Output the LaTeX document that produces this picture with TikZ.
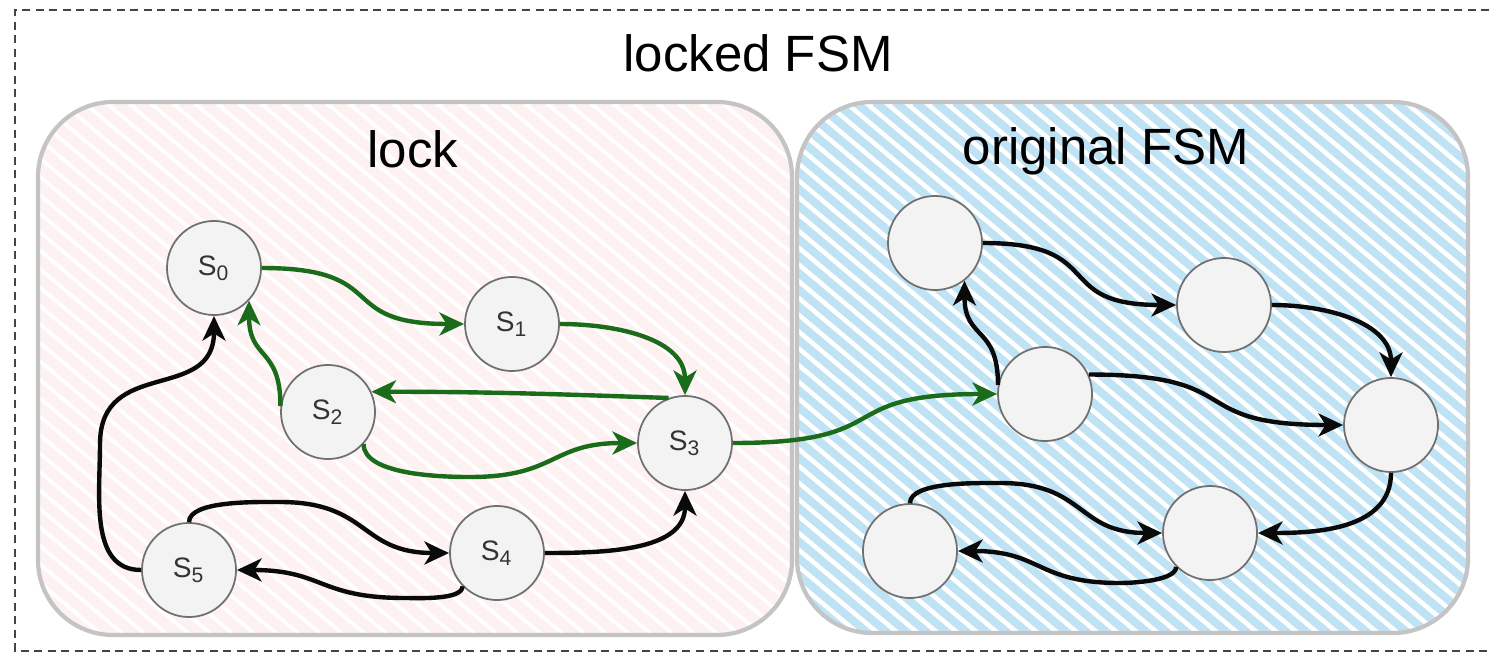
\documentclass[tikz,border=0pt]{standalone}
\usepackage{fontspec}
\setmainfont{Liberation Sans}
\usetikzlibrary{arrows.meta}
\definecolor{FSMGreen}{HTML}{1A6B1A}
\definecolor{FSMEdge}{HTML}{0A0A0A}
\definecolor{FSMRing}{HTML}{707070}
\definecolor{FSMState}{HTML}{F3F3F3}
\definecolor{FSMFrame}{HTML}{C4C4C4}
\definecolor{FSMPink}{HTML}{FDF1F1}
\definecolor{FSMBlue}{HTML}{BFE3F5}
\definecolor{FSMDash}{HTML}{444444}

\begin{document}
\begin{tikzpicture}[x=0.01cm,y=0.01cm,
  state/.style={circle,draw=FSMRing,line width=0.5pt,fill=FSMState,
    minimum size=0.94cm,inner sep=0pt,text=black!80,font=\fontsize{8}{9}\selectfont},
  trans/.style={line width=1.25pt,-{Stealth[length=7pt,width=6.5pt,inset=2pt]}},
  lockedge/.style={trans,draw=FSMGreen},
  plainedge/.style={trans,draw=FSMEdge},
  frame/.style={draw=FSMFrame,line width=1.2pt,rounded corners=0.75cm},
  title/.style={font=\fontsize{14.5}{17}\selectfont,anchor=base}]
\path[use as bounding box] (0,0) rectangle (1489,654);

% hatched backgrounds
\begin{scope}
\clip[rounded corners=0.75cm] (38,19) rectangle (792,552);
\fill[white] (38,19) rectangle (792,552);
\foreach \x in {-610,-588,...,792}
  \draw[FSMPink,line width=0.1cm] (\x,552) -- ++(640,-537);
\end{scope}
\begin{scope}
\clip[rounded corners=0.75cm] (797,21) rectangle (1468,552);
\fill[white] (797,21) rectangle (1468,552);
\foreach \x in {155,175,...,1468}
  \draw[FSMBlue,line width=0.08cm] (\x,552) -- ++(640,-537);
\end{scope}
\draw[frame] (38,19) rectangle (792,552);
\draw[frame] (797,21) rectangle (1468,552);

% outer frame, open to the right
\draw[FSMDash,line width=0.6pt,dash pattern=on 0.08cm off 0.055cm]
  (1489,644) -- (15,644) -- (15,3) -- (1489,3);

\node[title] (lockedfsm) at (758,582) {locked FSM};
\node[title] (locktitle) at (413,487) {lock};
\node[title] (origtitle) at (1106,490) {original FSM};

% lock states
\node[state] (s0) at (214,386) {S\textsubscript{0}};
\node[state] (s1) at (512,330) {S\textsubscript{1}};
\node[state] (s2) at (328,242) {S\textsubscript{2}};
\node[state] (s3) at (685,211) {S\textsubscript{3}};
\node[state] (s4) at (497,101) {S\textsubscript{4}};
\node[state] (s5) at (189,84) {S\textsubscript{5}};
% original states
\node[state] (o1) at (935,411) {};
\node[state] (o2) at (1224,349) {};
\node[state] (o3) at (1045,260) {};
\node[state] (o4) at (1391,229) {};
\node[state] (o5) at (1210,121) {};
\node[state] (o6) at (910,103) {};

% bends of the longer edges
\coordinate (s2s3) at (470,177);
\coordinate (s5up) at (100,210);
\coordinate (s5s4) at (280,152);
\coordinate (s4s5) at (405,56);
\coordinate (o6o5) at (1000,171);
\coordinate (o5o6) at (1120,71);

% unlocking sequence
\draw[lockedge] (s0.east) to[out=0,in=180,looseness=1.6] (s1.west);
\draw[lockedge] (s1.east) to[out=0,in=90] (s3.north);
\draw[lockedge] (s3.110) to[out=178,in=0] (s2.25);
\draw[lockedge] (s2.173) to[out=90,in=-90,looseness=1.4] (s0.-43);
\draw[lockedge] (s2.-42) to[out=-90,in=180,looseness=0.7] (s2s3)
  to[out=0,in=180,looseness=1.3] (s3.west);
\draw[lockedge] (s3.east) to[out=0,in=180,looseness=1.6] (o3.west);

% other lock transitions
\draw[plainedge] (s4.east) to[out=0,in=-90] (s3.south);
\draw[plainedge] (s5.north) to[out=90,in=180,looseness=0.6] (s5s4)
  to[out=0,in=180,looseness=1.3] (s4.west);
\draw[plainedge] (s4.-136) to[out=-90,in=0,looseness=0.6] (s4s5)
  to[out=180,in=0,looseness=1.3] (s5.east);
\draw[plainedge] (s5.west) to[out=180,in=-90] (s5up)
  to[out=90,in=-90,looseness=1.3] (s0.south);

% original FSM
\draw[plainedge] (o3.169) to[out=90,in=-90,looseness=1.4] (o1.-52);
\draw[plainedge] (o1.east) to[out=0,in=180,looseness=1.6] (o2.west);
\draw[plainedge] (o2.east) to[out=0,in=90] (o4.north);
\draw[plainedge] (o3.24) to[out=0,in=180,looseness=1.6] (o4.west);
\draw[plainedge] (o4.south) to[out=-90,in=0] (o5.east);
\draw[plainedge] (o6.north) to[out=90,in=180,looseness=0.6] (o6o5)
  to[out=0,in=180,looseness=1.3] (o5.west);
\draw[plainedge] (o5.-135) to[out=-90,in=0,looseness=0.6] (o5o6)
  to[out=180,in=0,looseness=1.3] (o6.east);
\end{tikzpicture}
\end{document}
